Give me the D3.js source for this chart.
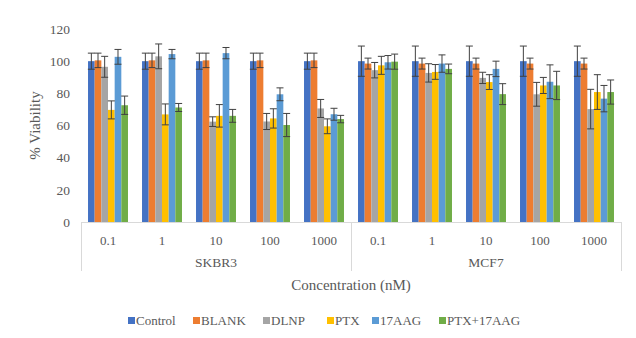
<!DOCTYPE html>
<html><head><meta charset="utf-8">
<script src="https://cdn.jsdelivr.net/npm/d3@7"></script>
<style>body{margin:0;background:#fff}svg{display:block}text{font-family:"Liberation Serif","Times New Roman",serif;fill:#595959}</style>
</head><body><svg id="c" width="636" height="338"></svg>
<script>
const groups = ["SKBR3", "MCF7"];
const concentrations = ["0.1", "1", "10", "100", "1000"];
const seriesNames = ["Control", "BLANK", "DLNP", "PTX", "17AAG", "PTX+17AAG"];
const colors = ["#4472C4", "#ED7D31", "#A5A5A5", "#FFC000", "#5B9BD5", "#70AD47"];
const yTicks = [0, 20, 40, 60, 80, 100, 120];

const control     = [100, 100, 100, 100, 100, 100, 100, 100, 100, 100];
const controlErr  = [5, 5, 5, 5, 5, 9.4, 9.4, 9.4, 9.4, 9.4];
const blank       = [100.5, 100.5, 100.5, 100.5, 100.5, 98.5, 98.5, 98.5, 98.5, 98.5];
const blankErr    = [4.5, 4.5, 4.5, 4.5, 4.5, 3.4, 3.4, 3.4, 3.4, 3.4];
const dlnp        = [96.5, 103, 62.4, 62.5, 70.6, 94.4, 92.7, 89.6, 79.4, 70.2];
const dlnpErr     = [6.5, 7.7, 3, 5, 5.6, 4.8, 5.7, 3.5, 7.4, 12.3];
const ptx         = [69.7, 66.9, 66, 64.4, 59.5, 97.4, 93.3, 87, 84.9, 80.8];
const ptxErr      = [5.6, 6.5, 7, 6, 4.6, 5.6, 4.6, 4.6, 5, 10.8];
const aag         = [102.7, 104.4, 105, 79.4, 67, 99.3, 98.5, 95.2, 87.2, 76.7];
const aagErr      = [4.6, 2.9, 3.5, 4, 3.7, 4.2, 5.4, 4.8, 10.5, 8.2];
const ptxAag      = [72.6, 71.2, 66, 60.3, 64, 99.7, 95.2, 79.5, 84.9, 80.8];
const ptxAagErr   = [5.7, 2.5, 4, 7.2, 2.3, 4.7, 3, 6.5, 8.8, 7.5];

const values = [control, blank, dlnp, ptx, aag, ptxAag];
const errors = [controlErr, blankErr, dlnpErr, ptxErr, aagErr, ptxAagErr];

const cats = [];
groups.forEach(g => concentrations.forEach(c => cats.push(g + "|" + c)));

const svg = d3.select("#c");
const L = 81, R = 621, T = 29, B = 222;

const x0 = d3.scaleBand().domain(cats).range([L, R]).paddingInner(0.26).paddingOuter(0.13);
const x1 = d3.scaleBand().domain(seriesNames).range([0, x0.bandwidth()]);
const y = d3.scaleLinear().domain([0, 120]).range([B, T]);

// y axis labels
const yAxis = d3.axisLeft(y).tickValues(yTicks).tickSize(0).tickPadding(11);
const yg = svg.append("g").attr("transform", `translate(${L},0)`).call(yAxis);
yg.select(".domain").remove();
yg.selectAll("text").style("font-size", "13.5px").style("font-family", '"Liberation Serif",serif').attr("fill", "#595959");

svg.append("text").attr("transform", `translate(37,${(T + B) / 2}) rotate(-90)`)
  .attr("text-anchor", "middle").attr("dominant-baseline", "middle")
  .style("font-size", "15px").text("% Viability");

// bars
const data = [];
seriesNames.forEach((s, si) => cats.forEach((c, ci) => data.push({s, si, c, v: values[si][ci], e: errors[si][ci]})));

svg.append("g").selectAll("rect").data(data).join("rect")
  .attr("x", d => x0(d.c) + x1(d.s))
  .attr("width", x1.bandwidth())
  .attr("y", d => y(d.v))
  .attr("height", d => y(0) - y(d.v))
  .attr("fill", d => colors[d.si]);

// error bars
const eg = svg.append("g").attr("stroke", "#404040").attr("stroke-width", 1);
data.forEach(d => {
  const cx = x0(d.c) + x1(d.s) + x1.bandwidth() / 2;
  const y1 = y(d.v + d.e), y2 = y(d.v - d.e);
  eg.append("line").attr("x1", cx).attr("x2", cx).attr("y1", y1).attr("y2", y2);
  eg.append("line").attr("x1", cx - 3.5).attr("x2", cx + 3.5).attr("y1", y1).attr("y2", y1);
  eg.append("line").attr("x1", cx - 3.5).attr("x2", cx + 3.5).attr("y1", y2).attr("y2", y2);
});

// category axis
const ax = svg.append("g").attr("stroke", "#D9D9D9").attr("stroke-width", 1);
ax.append("line").attr("x1", L).attr("x2", R).attr("y1", B + 0.5).attr("y2", B + 0.5);
const groupEdges = [L, x0(groups[1] + "|" + concentrations[0]) - x0.step() * 0.13, R];
groupEdges.forEach(gx => ax.append("line").attr("x1", Math.round(gx) + 0.5).attr("x2", Math.round(gx) + 0.5).attr("y1", B).attr("y2", 271));

svg.append("g").selectAll("text").data(cats).join("text")
  .attr("x", c => x0(c) + x0.bandwidth() / 2)
  .attr("y", 245)
  .attr("text-anchor", "middle")
  .style("font-size", "13px")
  .text(c => c.split("|")[1]);

groups.forEach((g, gi) => {
  svg.append("text").attr("x", (groupEdges[gi] + groupEdges[gi + 1]) / 2).attr("y", 267)
    .attr("text-anchor", "middle").style("font-size", "13.5px").text(g);
});

svg.append("text").attr("x", (L + R) / 2).attr("y", 290).attr("text-anchor", "middle")
  .style("font-size", "15px").text("Concentration (nM)");

// legend
const legendX = [128, 193, 263, 327, 372, 439];
const lg = svg.append("g");
seriesNames.forEach((s, i) => {
  lg.append("rect").attr("x", legendX[i]).attr("y", 317).attr("width", 7).attr("height", 7).attr("fill", colors[i]);
  lg.append("text").attr("x", legendX[i] + 8).attr("y", 325).style("font-size", "13px").text(s);
});
</script></body></html>
